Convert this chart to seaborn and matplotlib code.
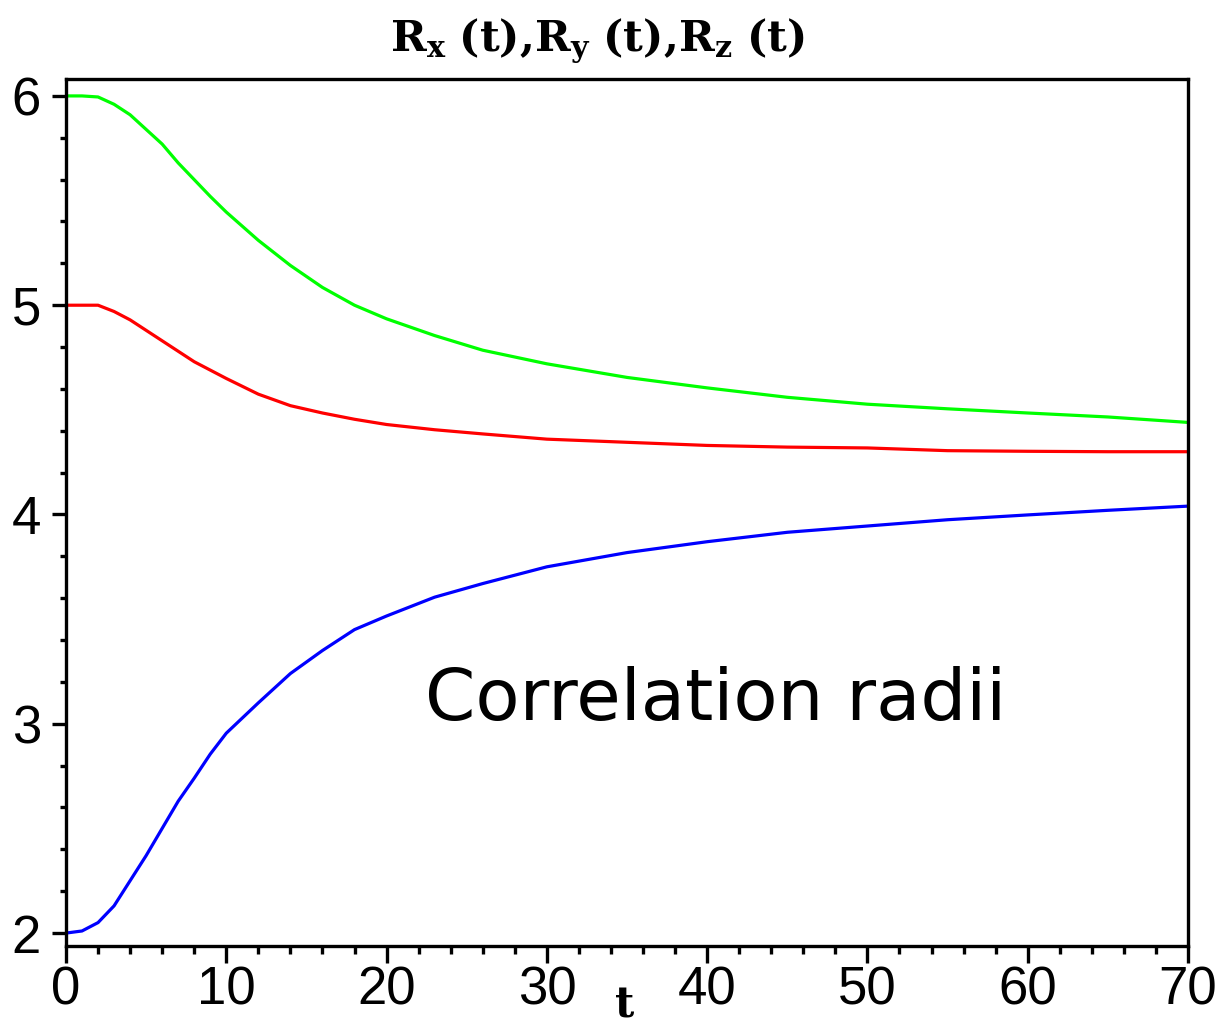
import numpy as np
import pandas as pd
import matplotlib
matplotlib.use("Agg")
import matplotlib.pyplot as plt
from matplotlib.ticker import MultipleLocator
import seaborn as sns

# time grid and the three correlation radii
t = [0, 1, 2, 3, 4, 5, 6, 7, 8, 9, 10, 12, 14, 16, 18, 20, 23, 26, 30,
     35, 40, 45, 50, 55, 60, 65, 70]
r_x = [5.0, 5.0, 5.0, 4.97, 4.93, 4.88, 4.83, 4.78, 4.73, 4.69, 4.65, 4.575,
       4.52, 4.485, 4.455, 4.43, 4.405, 4.385, 4.36, 4.345, 4.33, 4.322,
       4.318, 4.305, 4.302, 4.30, 4.30]
r_y = [6.0, 6.0, 5.995, 5.96, 5.91, 5.84, 5.77, 5.68, 5.60, 5.52, 5.445, 5.31,
       5.19, 5.085, 5.00, 4.935, 4.855, 4.785, 4.72, 4.655, 4.605, 4.56,
       4.527, 4.505, 4.485, 4.466, 4.44]
r_z = [2.0, 2.01, 2.05, 2.13, 2.25, 2.37, 2.50, 2.63, 2.74, 2.855, 2.955, 3.10,
       3.24, 3.35, 3.45, 3.515, 3.605, 3.67, 3.75, 3.818, 3.87, 3.915, 3.945,
       3.975, 3.998, 4.02, 4.04]

series_names = ["Rx", "Ry", "Rz"]
series_colors = {"Rx": "#ff0000", "Ry": "#00ff00", "Rz": "#0000ff"}

df = pd.DataFrame({
    "t": t * 3,
    "R": r_x + r_y + r_z,
    "series": sum([[n] * len(t) for n in series_names], []),
})

sns.set_style("ticks")
plt.rcParams["font.family"] = ["Liberation Sans", "DejaVu Sans"]
plt.rcParams["mathtext.fontset"] = "dejavuserif"
plt.rcParams["text.color"] = "black"
plt.rcParams["xtick.color"] = "black"
plt.rcParams["ytick.color"] = "black"
plt.rcParams["xtick.labelcolor"] = "black"
plt.rcParams["ytick.labelcolor"] = "black"

fig = plt.figure(figsize=(12.15, 10.31), dpi=100)
ax = fig.add_axes([0.0543, 0.0824, 0.9235, 0.8410])

sns.lineplot(data=df, x="t", y="R", hue="series", palette=series_colors,
             linewidth=2.3, legend=False, ax=ax)

ax.set_xlim(0, 70)
ax.set_ylim(1.938, 6.081)
ax.xaxis.set_major_locator(MultipleLocator(10))
ax.xaxis.set_minor_locator(MultipleLocator(2))
ax.yaxis.set_major_locator(MultipleLocator(1))
ax.yaxis.set_minor_locator(MultipleLocator(0.2))

for s in ax.spines.values():
    s.set_visible(True)
    s.set_linewidth(2.4)
    s.set_color("black")

ax.tick_params(axis="x", which="major", length=12, width=2.4, labelsize=38,
               pad=2, direction="out")
ax.tick_params(axis="x", which="minor", length=6, width=2.4, direction="out")
ax.tick_params(axis="y", which="major", length=10, width=2.4, labelsize=38,
               pad=8, direction="out")
ax.tick_params(axis="y", which="minor", length=4, width=2.4, direction="out")

ax.set_xlabel("")
ax.set_ylabel("")

fig.text(0.4915, 0.961,
         r"$\mathbf{R_x\ (t){,}R_y\ (t){,}R_z\ (t)}$",
         ha="center", va="center", fontsize=31, color="black")
fig.text(0.514, 0.025, r"$\mathbf{t}$", ha="center", va="center",
         fontsize=30, color="black")

ax.text(40.5, 3.02, "Correlation radii", ha="center", va="baseline",
        fontsize=52, color="black", family="DejaVu Sans")

fig.savefig("out.png", dpi=100)
